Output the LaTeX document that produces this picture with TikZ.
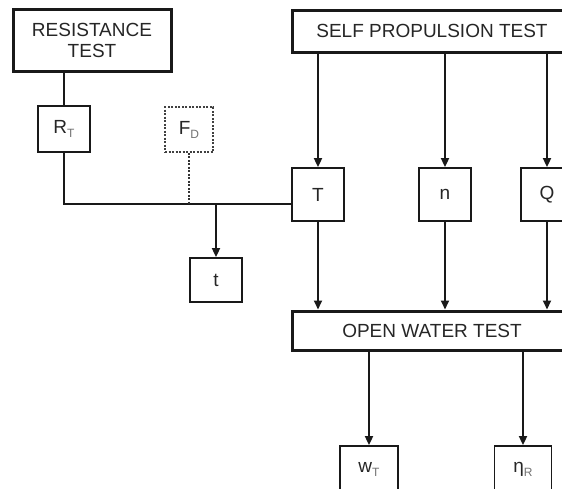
\documentclass[tikz,border=0pt]{standalone}
\usepackage{fontspec}
\setmainfont{Liberation Sans}
\usetikzlibrary{arrows.meta}
\newcommand{\sbs}[1]{\raisebox{-0.4ex}{\fontsize{12}{12}\selectfont\color{black!55}#1}}
\tikzset{
  bigbox/.style={draw=black!90, line width=3pt, rectangle, inner sep=0pt, text=black!85, font=\fontsize{19}{21}\selectfont, align=center},
  smallbox/.style={draw=black!90, line width=1.8pt, rectangle, inner sep=0pt, text=black!85, font=\fontsize{19}{21}\selectfont},
  conn/.style={draw=black!90, line width=1.8pt},
  arr/.style={conn, -{Triangle[length=9pt,width=8pt]}},
  dashconn/.style={draw=black!80, line width=1.8pt, dash pattern=on 2pt off 1.5pt}
}
\begin{document}
\begin{tikzpicture}[x=1pt,y=-1pt]
\useasboundingbox (0,0) rectangle (562,488);
\fill[white] (0,0) rectangle (562,488);
\clip (0,0) rectangle (562,488);
% nodes
\node[bigbox, minimum width=158pt, minimum height=62pt] (res) at (92,40) {RESISTANCE\\TEST};
\node[bigbox, minimum width=280pt, minimum height=42pt] (sp) at (432,31) {SELF PROPULSION TEST};
\node[smallbox, minimum width=52pt, minimum height=46pt] (rt) at (64,129) {R\sbs{T}};
\node[smallbox, draw=black!75, dash pattern=on 2pt off 1.5pt, minimum width=48pt, minimum height=45pt] (fd) at (189,129.5) {F\sbs{D}};
\node[smallbox, minimum width=52pt, minimum height=53pt] (T) at (318,194.5) {T};
\node[smallbox, minimum width=52pt, minimum height=53pt] (n) at (445,194.5) {n};
\node[smallbox, minimum width=52pt, minimum height=53pt] (Q) at (547,194.5) {Q};
\node[smallbox, minimum width=52pt, minimum height=44pt] (t) at (216,280) {t};
\node[bigbox, minimum width=280pt, minimum height=39pt] (owt) at (432,330.5) {OPEN WATER TEST};
\node[smallbox, minimum width=58pt, minimum height=46pt] (wt) at (369,469) {w\sbs{T}};
\node[smallbox, minimum width=57pt, minimum height=46pt] (eta) at (523,469) {η\sbs{R}};
\coordinate (j) at (216,204);
% connectors
\draw[conn] (rt.north |- res.south) -- (rt.north);
\draw[conn] (rt.south) |- (T.west |- j);
\draw[dashconn] (fd.south) -- (fd.south |- j);
\draw[arr] (j) -- (t.north);
\draw[arr] (T.north |- sp.south) -- (T.north);
\draw[arr] (n.north |- sp.south) -- (n.north);
\draw[arr] (Q.north |- sp.south) -- (Q.north);
\draw[arr] (T.south) -- (T.south |- owt.north);
\draw[arr] (n.south) -- (n.south |- owt.north);
\draw[arr] (Q.south) -- (Q.south |- owt.north);
\draw[arr] (wt.north |- owt.south) -- (wt.north);
\draw[arr] (eta.north |- owt.south) -- (eta.north);
\end{tikzpicture}
\end{document}
